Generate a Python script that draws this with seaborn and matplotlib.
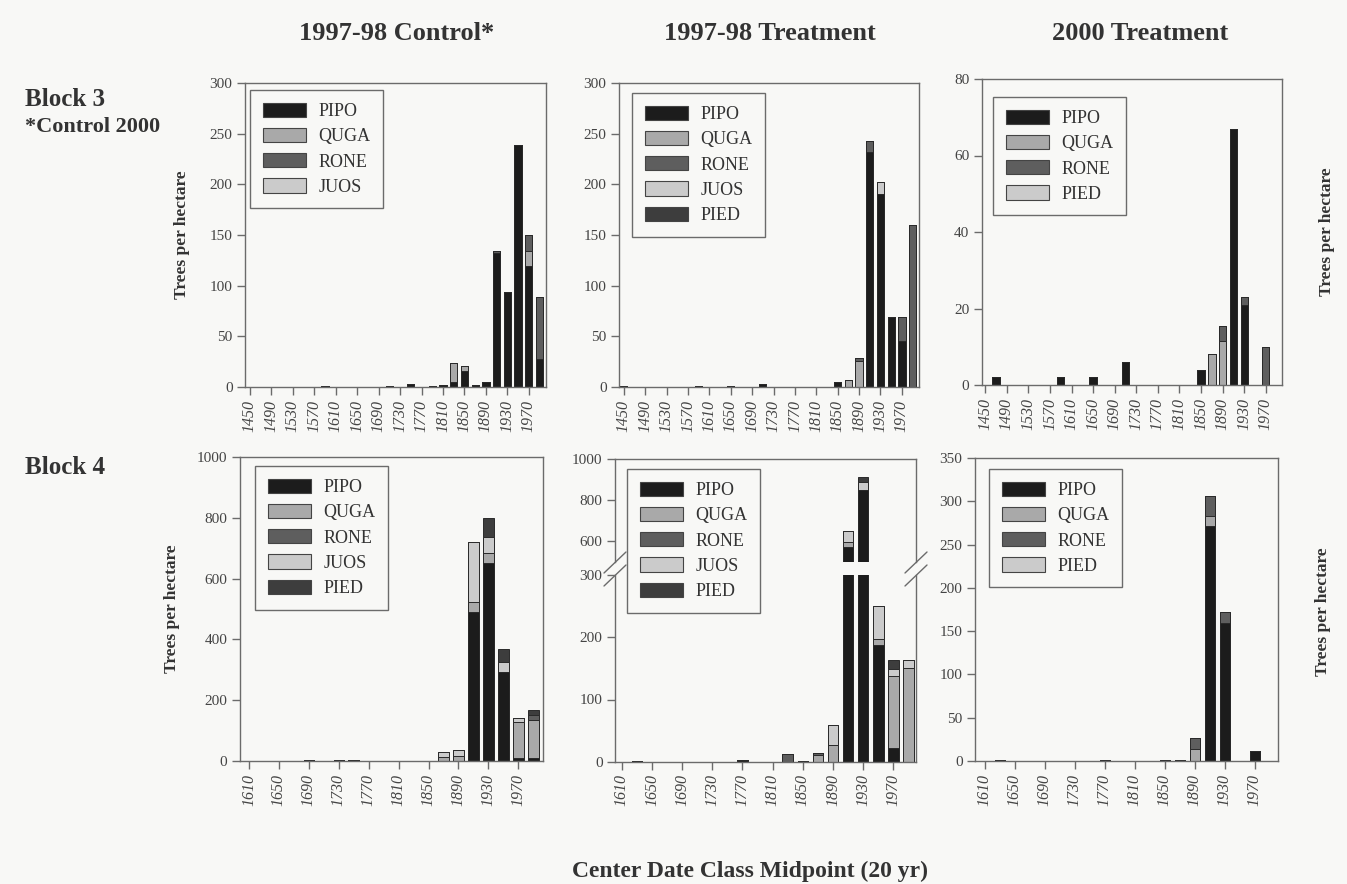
import numpy as np
import pandas as pd
import matplotlib
matplotlib.use("Agg")
import matplotlib.pyplot as plt
import seaborn as sns
from matplotlib.patches import Patch
from matplotlib.lines import Line2D

W, H = 1347, 884
BG = "#f8f8f6"

# ---------------- data ----------------
col_titles = ["1997-98 Control*", "1997-98 Treatment", "2000 Treatment"]
row_titles = ["Block 3", "Block 4"]
row_note = "*Control 2000"
x_title = "Center Date Class Midpoint (20 yr)"
y_title = "Trees per hectare"

species_a = ["PIPO", "QUGA", "RONE", "JUOS"]
species_b = ["PIPO", "QUGA", "RONE", "JUOS", "PIED"]
species_c = ["PIPO", "QUGA", "RONE", "PIED"]
shades = ["#1c1c1c", "#a9a9a9", "#5e5e5e", "#cbcbcb", "#3d3d3d"]

top_ticks = [1450, 1490, 1530, 1570, 1610, 1650, 1690, 1730, 1770, 1810, 1850, 1890, 1930, 1970]
bottom_ticks = [1610, 1650, 1690, 1730, 1770, 1810, 1850, 1890, 1930, 1970]

# Block 3, 1997-98 Control
b3c_years = [1590, 1710, 1750, 1790, 1810, 1830, 1850, 1870, 1890, 1910, 1930, 1950, 1970, 1990]
b3c_pipo  = [1, 1, 3, 1, 2, 5, 16, 2, 5, 132, 94, 239, 119, 28]
b3c_quga  = [0, 0, 0, 0, 0, 19, 5, 0, 0, 0, 0, 0, 15, 0]
b3c_rone  = [0, 0, 0, 0, 0, 0, 0, 0, 0, 2, 0, 0, 16, 61]
b3c_juos  = [0, 0, 0, 0, 0, 0, 0, 0, 0, 0, 0, 0, 0, 0]

# Block 3, 1997-98 Treatment
b3t_years = [1450, 1590, 1650, 1710, 1850, 1870, 1890, 1910, 1930, 1950, 1970, 1990]
b3t_pipo  = [1, 1, 1, 3, 5, 0, 0, 232, 190, 69, 45, 0]
b3t_quga  = [0, 0, 0, 0, 0, 7, 26, 0, 0, 0, 0, 0]
b3t_rone  = [0, 0, 0, 0, 0, 0, 3, 11, 0, 0, 24, 160]
b3t_juos  = [0, 0, 0, 0, 0, 0, 0, 0, 12, 0, 0, 0]
b3t_pied  = [0, 0, 0, 0, 0, 0, 0, 0, 0, 0, 0, 0]

# Block 3, 2000 Treatment
b3n_years = [1470, 1590, 1650, 1710, 1850, 1870, 1890, 1910, 1930, 1970]
b3n_pipo  = [2, 2, 2, 6, 4, 0, 0, 67, 21, 0]
b3n_quga  = [0, 0, 0, 0, 0, 8, 11.5, 0, 0, 0]
b3n_rone  = [0, 0, 0, 0, 0, 0, 4, 0, 2, 10]
b3n_pied  = [0, 0, 0, 0, 0, 0, 0, 0, 0, 0]

# Block 4, 1997-98 Control
b4c_years = [1690, 1730, 1750, 1870, 1890, 1910, 1930, 1950, 1970, 1990]
b4c_pipo  = [3, 2, 2, 0, 0, 491, 650, 293, 10, 10]
b4c_quga  = [0, 0, 0, 12, 15, 32, 33, 0, 119, 124]
b4c_rone  = [0, 0, 0, 0, 0, 0, 0, 0, 0, 16]
b4c_juos  = [0, 0, 0, 17, 20, 198, 54, 33, 13, 0]
b4c_pied  = [0, 0, 0, 0, 0, 0, 61, 41, 0, 18]

# Block 4, 1997-98 Treatment
b4t_years = [1630, 1770, 1830, 1850, 1870, 1890, 1910, 1930, 1950, 1970, 1990]
b4t_pipo  = [1, 4, 0, 1, 0, 0, 570, 848, 187, 23, 0]
b4t_quga  = [0, 0, 0, 0, 12, 28, 25, 0, 10, 114, 151]
b4t_rone  = [0, 0, 13, 0, 3, 0, 0, 0, 0, 0, 0]
b4t_juos  = [0, 0, 0, 0, 0, 31, 55, 40, 53, 12, 12]
b4t_pied  = [0, 0, 0, 0, 0, 0, 0, 25, 0, 14, 0]

# Block 4, 2000 Treatment
b4n_years = [1630, 1770, 1850, 1870, 1890, 1910, 1930, 1970]
b4n_pipo  = [1, 1, 1, 1, 0, 272, 159, 12]
b4n_quga  = [0, 0, 0, 0, 14, 11, 0, 0]
b4n_rone  = [0, 0, 0, 0, 13, 23, 13, 0]
b4n_pied  = [0, 0, 0, 0, 0, 0, 0, 0]

# ---------------- style ----------------
sns.set_style("ticks")
plt.rcParams["font.family"] = ["Liberation Serif", "DejaVu Serif"]
plt.rcParams["axes.edgecolor"] = "#6b6b6b"
plt.rcParams["xtick.color"] = "#6b6b6b"
plt.rcParams["ytick.color"] = "#6b6b6b"

fig = plt.figure(figsize=(W / 100, H / 100), dpi=100)
fig.patch.set_facecolor(BG)


def add_ax(l, t, r, b):
    ax = fig.add_axes([l / W, 1 - b / H, (r - l) / W, (b - t) / H])
    ax.set_facecolor(BG)
    for s in ax.spines.values():
        s.set_visible(True)
        s.set_color("#6b6b6b")
        s.set_linewidth(1.0)
    return ax


def draw_stack(ax, years, series, width):
    cum = np.cumsum(np.array(series, dtype=float), axis=0)
    for k in range(len(series) - 1, -1, -1):
        df = pd.DataFrame({"year": years, "value": cum[k]})
        sns.barplot(data=df, x="year", y="value", native_scale=True, width=width,
                    color=shades[k], saturation=1, edgecolor="#2a2a2a",
                    linewidth=0.7, errorbar=None, ax=ax)
    ax.set_xlabel("")
    ax.set_ylabel("")


def style_axis(ax, ticks, xlim, yticks, ylim, show_x=True):
    ax.set_xlim(*xlim)
    ax.set_ylim(*ylim)
    ax.set_yticks(yticks)
    ax.set_yticklabels([str(v) for v in yticks], fontsize=11, color="#444444")
    if show_x:
        ax.set_xticks(ticks)
        ax.set_xticklabels([str(v) for v in ticks], rotation=90, fontstyle="italic",
                           fontsize=11.5, color="#444444")
    else:
        ax.set_xticks([])
    ax.tick_params(axis="both", direction="out", length=6, width=1.0, pad=3)


def add_legend(target, names, x, y):
    handles = [Patch(facecolor=shades[i], edgecolor="#444444", linewidth=0.8, label=n)
               for i, n in enumerate(names)]
    leg = target.legend(handles=handles, loc="upper left", bbox_to_anchor=(x / W, 1 - y / H),
                        bbox_transform=fig.transFigure, borderaxespad=0, frameon=True,
                        fancybox=False, edgecolor="#6b6b6b", facecolor=BG, framealpha=1,
                        fontsize=13, handlelength=2.4, handleheight=0.85, labelspacing=0.43,
                        borderpad=0.7, handletextpad=0.7)
    leg.get_frame().set_linewidth(1.0)
    leg.set_zorder(20)
    for t in leg.get_texts():
        t.set_color("#333333")
    return leg


# ---- Block 3 ----
axA = add_ax(245, 83, 546, 387)
draw_stack(axA, b3c_years, [b3c_pipo, b3c_quga, b3c_rone, b3c_juos], 0.68)
style_axis(axA, top_ticks, (1441, 2002), [0, 50, 100, 150, 200, 250, 300], (0, 300))
add_legend(axA, species_a, 250, 90)

axB = add_ax(619, 83, 919, 387)
draw_stack(axB, b3t_years, [b3t_pipo, b3t_quga, b3t_rone, b3t_juos, b3t_pied], 0.68)
style_axis(axB, top_ticks, (1441, 2002), [0, 50, 100, 150, 200, 250, 300], (0, 300))
add_legend(axB, species_b, 632, 93)

axC = add_ax(982, 79, 1282, 385)
draw_stack(axC, b3n_years, [b3n_pipo, b3n_quga, b3n_rone, b3n_pied], 0.68)
style_axis(axC, top_ticks, (1444, 2000), [0, 20, 40, 60, 80], (0, 80))
add_legend(axC, species_c, 993, 97)

# ---- Block 4 ----
axD = add_ax(240, 457, 543, 761)
draw_stack(axD, b4c_years, [b4c_pipo, b4c_quga, b4c_rone, b4c_juos, b4c_pied], 0.7)
style_axis(axD, bottom_ticks, (1598, 2003), [0, 200, 400, 600, 800, 1000], (0, 1000))
add_legend(axD, species_b, 255, 466)

# broken axis panel
axEh = add_ax(615, 459, 916, 561.5)
axEl = add_ax(615, 574.5, 916, 762)
series_e = [b4t_pipo, b4t_quga, b4t_rone, b4t_juos, b4t_pied]
draw_stack(axEh, b4t_years, series_e, 0.7)
draw_stack(axEl, b4t_years, series_e, 0.7)
style_axis(axEh, bottom_ticks, (1601, 2000), [600, 800, 1000], (500, 1000), show_x=False)
style_axis(axEl, bottom_ticks, (1601, 2000), [0, 100, 200, 300], (0, 300))
axEh.spines["bottom"].set_visible(False)
axEl.spines["top"].set_visible(False)
add_legend(fig, species_b, 627, 469)


def px(x, y):
    return (x / W, 1 - y / H)


for (x0, y0, x1, y1) in [(604, 573, 626, 552), (604, 586, 626, 565),
                         (905, 573, 927, 552), (905, 586, 927, 565)]:
    (a, b), (c, d) = px(x0, y0), px(x1, y1)
    fig.add_artist(Line2D([a, c], [b, d], transform=fig.transFigure,
                          color="#6b6b6b", linewidth=1.0, zorder=10))

axF = add_ax(975, 458, 1278, 761)
draw_stack(axF, b4n_years, [b4n_pipo, b4n_quga, b4n_rone, b4n_pied], 0.7)
style_axis(axF, bottom_ticks, (1597, 2001), [0, 50, 100, 150, 200, 250, 300, 350], (0, 350))
add_legend(axF, species_c, 989, 469)

# ---------------- texts ----------------
title_kw = dict(fontsize=19, fontweight="bold", color="#333333", ha="center", va="center")
for title, cx in zip(col_titles, [397, 770, 1140]):
    fig.text(cx / W, 1 - 33 / H, title, **title_kw)

fig.text(25 / W, 1 - 100 / H, row_titles[0], fontsize=18, fontweight="bold",
         color="#333333", ha="left", va="center")
fig.text(25 / W, 1 - 127 / H, row_note, fontsize=16, fontweight="bold",
         color="#333333", ha="left", va="center")
fig.text(25 / W, 1 - 467 / H, row_titles[1], fontsize=18, fontweight="bold",
         color="#333333", ha="left", va="center")

ylab_kw = dict(fontsize=12.5, fontweight="bold", color="#333333", rotation=90,
               ha="center", va="center")
fig.text(182 / W, 1 - 235 / H, y_title, **ylab_kw)
fig.text(1327 / W, 1 - 232 / H, y_title, **ylab_kw)
fig.text(172 / W, 1 - 609 / H, y_title, **ylab_kw)
fig.text(1323 / W, 1 - 612 / H, y_title, **ylab_kw)

fig.text(750 / W, 1 - 871 / H, x_title, fontsize=17, fontweight="bold",
         color="#333333", ha="center", va="center")

fig.savefig("out.png", dpi=100, facecolor=BG)
